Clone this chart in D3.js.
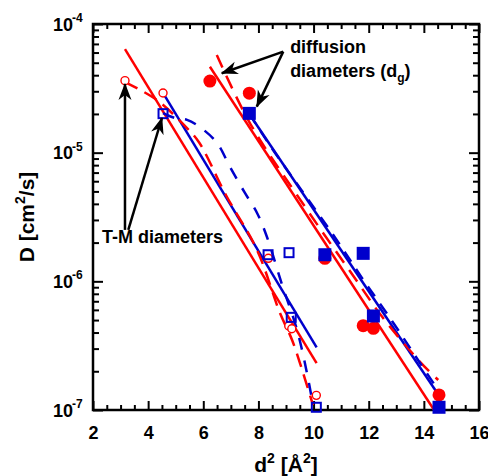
<!DOCTYPE html>
<html>
<head>
<meta charset="utf-8">
<script src="https://cdnjs.cloudflare.com/ajax/libs/d3/7.8.5/d3.min.js"></script>
<style>
body{margin:0;background:#fff;}
svg{display:block;font-family:"Liberation Sans",Arial,Helvetica,sans-serif;font-weight:bold;}
</style>
</head>
<body>
<div id="chart"></div>
<script>
// T-M diameters (open symbols)
var tmRedX = [3.16, 4.54, 8.36, 9.10, 9.21, 10.10];
var tmRedY = [3.63e-5, 2.91e-5, 1.51e-6, 4.5e-7, 4.28e-7, 1.30e-7];
var tmBlueX = [4.54, 8.35, 9.11, 9.19, 10.10];
var tmBlueY = [2.01e-5, 1.61e-6, 1.67e-6, 5.25e-7, 1.05e-7];

// diffusion diameters (filled symbols)
var dgRedX = [6.24, 7.67, 10.41, 11.80, 12.17, 14.55];
var dgRedY = [3.6e-5, 2.9e-5, 1.51e-6, 4.52e-7, 4.31e-7, 1.31e-7];
var dgBlueX = [7.67, 10.41, 11.80, 12.17, 14.55];
var dgBlueY = [2.02e-5, 1.61e-6, 1.65e-6, 5.38e-7, 1.05e-7];

// straight fits
var tmRedFitX = [3.16, 10.11], tmRedFitY = [6.39e-5, 2.31e-7];
var tmBlueFitX = [4.55, 10.11], tmBlueFitY = [2.89e-5, 3.07e-7];
var dgRedFitX = [6.24, 14.37], dgRedFitY = [4.65e-5, 1.0e-7];
var dgBlueFitX = [7.67, 14.48], dgBlueFitY = [2.0e-5, 1.36e-7];

// curved (dashed) fits
var tmRedCurveX = [3.16, 4.32, 5.41, 5.85, 6.82, 7.95, 8.78, 9.22, 9.62, 9.98];
var tmRedCurveY = [3.54e-5, 2.56e-5, 1.55e-5, 1.2e-5, 4.69e-6, 1.75e-6, 5.68e-7, 3.50e-7, 1.94e-7, 1.09e-7];
var tmBlueCurveX = [4.54, 4.97, 5.41, 5.88, 6.50, 6.97, 7.51, 7.95, 8.31, 8.85, 9.40, 9.76, 9.98];
var tmBlueCurveY = [2.03e-5, 1.86e-5, 1.80e-5, 1.58e-5, 1.19e-5, 7.74e-6, 4.86e-6, 3.40e-6, 2.21e-6, 9.5e-7, 4.19e-7, 1.94e-7, 1.09e-7];
var dgRedCurveX = [6.49, 7.69, 9.69, 11.38, 12.53, 13.86, 14.52];
var dgRedCurveY = [5.74e-5, 1.70e-5, 3.80e-6, 1.15e-6, 5.16e-7, 2.37e-7, 1.71e-7];
var dgBlueCurveX = [7.66, 8.49, 9.51, 10.74, 11.76, 12.85, 13.86, 14.47];
var dgBlueCurveY = [2.02e-5, 1.08e-5, 5.3e-6, 2.25e-6, 1.06e-6, 4.9e-7, 2.32e-7, 1.48e-7];

// ticks
var xMajor = [2, 4, 6, 8, 10, 12, 14, 16];
var yMajor = [1e-7, 1e-6, 1e-5, 1e-4];
var yLabels = ["-7", "-6", "-5", "-4"];

// annotations (data coords)
var arrows = [
  {x1: 8.90, y1: 6.1e-5, x2: 6.67, y2: 4.14e-5},
  {x1: 8.90, y1: 6.1e-5, x2: 7.94, y2: 2.28e-5},
  {x1: 3.16, y1: 2.51e-6, x2: 3.16, y2: 3.42e-5},
  {x1: 3.28, y1: 2.51e-6, x2: 4.50, y2: 1.86e-5}
];

var red = "#ff0000", blue = "#0000cc";
var width = 488, height = 476;
var L = 93, R = 479, T = 24, B = 410;

var svg = d3.select("#chart").append("svg")
    .attr("width", width)
    .attr("height", height);

var x = d3.scaleLinear().domain([2, 16]).range([L, R]);
var y = d3.scaleLog().domain([1e-7, 1e-4]).range([B, T]);

var xMinor = d3.range(2, 16.01, 0.5).filter(function(v){ return v % 2 !== 0; });
var yMinor = [];
[1e-7, 1e-6, 1e-5].forEach(function(dec){
  for (var k = 2; k <= 9; k++) yMinor.push(dec * k);
});

svg.append("defs").append("clipPath").attr("id", "clip")
  .append("rect").attr("x", L).attr("y", T).attr("width", R - L).attr("height", B - T);

var mk = svg.select("defs").append("marker")
    .attr("id", "head")
    .attr("markerUnits", "userSpaceOnUse")
    .attr("viewBox", "0 -7 17 14")
    .attr("refX", 16).attr("refY", 0)
    .attr("markerWidth", 17).attr("markerHeight", 14)
    .attr("orient", "auto");
mk.append("path").attr("d", "M0,-6.5L17,0L0,6.5L5,0Z").attr("fill", "black");

// axes: major and minor ticks, inward, on all four sides
function styleAxis(g){
  g.select(".domain").remove();
  g.selectAll(".tick line").attr("stroke", "black").attr("stroke-width", 2);
}
svg.append("g").attr("transform", "translate(0," + B + ")")
  .call(d3.axisBottom(x).tickValues(xMajor).tickSize(-9).tickPadding(16).tickFormat(d3.format("d")))
  .call(styleAxis)
  .selectAll("text").attr("font-size", 18).attr("font-weight", "bold").attr("fill", "black")
    .attr("font-family", "'Liberation Sans',Arial,sans-serif");
svg.append("g").attr("transform", "translate(0," + B + ")")
  .call(d3.axisBottom(x).tickValues(xMinor).tickSize(-5).tickFormat(""))
  .call(styleAxis);
svg.append("g").attr("transform", "translate(0," + T + ")")
  .call(d3.axisTop(x).tickValues(xMajor).tickSize(-9).tickFormat(""))
  .call(styleAxis);
svg.append("g").attr("transform", "translate(0," + T + ")")
  .call(d3.axisTop(x).tickValues(xMinor).tickSize(-5).tickFormat(""))
  .call(styleAxis);

var yl = svg.append("g").attr("transform", "translate(" + L + ",0)")
  .call(d3.axisLeft(y).tickValues(yMajor).tickSize(-10).tickFormat(""))
  .call(styleAxis);
svg.append("g").attr("transform", "translate(" + L + ",0)")
  .call(d3.axisLeft(y).tickValues(yMinor).tickSize(-6).tickFormat(""))
  .call(styleAxis);
svg.append("g").attr("transform", "translate(" + R + ",0)")
  .call(d3.axisRight(y).tickValues(yMajor).tickSize(-10).tickFormat(""))
  .call(styleAxis);
svg.append("g").attr("transform", "translate(" + R + ",0)")
  .call(d3.axisRight(y).tickValues(yMinor).tickSize(-6).tickFormat(""))
  .call(styleAxis);

// y tick labels 10^n
var ylab = svg.append("g").selectAll("text").data(yMajor).enter().append("text")
  .attr("x", 73)
  .attr("y", function(d){ return y(d) + 6.5; })
  .attr("text-anchor", "end")
  .attr("font-size", 18)
  .text("10");
svg.append("g").selectAll("text").data(yMajor).enter().append("text")
  .attr("x", 72)
  .attr("y", function(d){ return y(d) - 2; })
  .attr("font-size", 12)
  .text(function(d, i){ return yLabels[i]; });

svg.append("rect").attr("x", L).attr("y", T).attr("width", R - L).attr("height", B - T)
  .attr("fill", "none").attr("stroke", "black").attr("stroke-width", 2.5);

// axis titles
var yt = svg.append("text")
  .attr("transform", "translate(34," + ((T + B) / 2) + ") rotate(-90)")
  .attr("text-anchor", "middle")
  .attr("font-size", 21);
yt.append("tspan").text("D [cm");
yt.append("tspan").attr("font-size", 14).attr("dy", -9).text("2");
yt.append("tspan").attr("dy", 9).text("/s]");

var xt = svg.append("text")
  .attr("x", (L + R) / 2).attr("y", 472)
  .attr("text-anchor", "middle")
  .attr("font-size", 21);
xt.append("tspan").text("d");
xt.append("tspan").attr("font-size", 14).attr("dy", -9).text("2");
xt.append("tspan").attr("dy", 9).text(" [Å");
xt.append("tspan").attr("font-size", 14).attr("dy", -9).text("2");
xt.append("tspan").attr("dy", 9).text("]");

// lines
var plot = svg.append("g").attr("clip-path", "url(#clip)");
function zip(xs, ys){ return xs.map(function(v, i){ return [v, ys[i]]; }); }
var line = d3.line().x(function(d){ return x(d[0]); }).y(function(d){ return y(d[1]); });
var curve = d3.line().x(function(d){ return x(d[0]); }).y(function(d){ return y(d[1]); })
  .curve(d3.curveCatmullRom.alpha(0.5));

function addLine(xs, ys, color, dash, gen){
  plot.append("path").datum(zip(xs, ys))
    .attr("d", gen)
    .attr("fill", "none")
    .attr("stroke", color)
    .attr("stroke-width", 2.5)
    .attr("stroke-dasharray", dash);
}
addLine(tmRedFitX, tmRedFitY, red, null, line);
addLine(tmBlueFitX, tmBlueFitY, blue, null, line);
addLine(dgRedFitX, dgRedFitY, red, null, line);
addLine(dgBlueFitX, dgBlueFitY, blue, null, line);
addLine(tmRedCurveX, tmRedCurveY, red, "14,8", curve);
addLine(tmBlueCurveX, tmBlueCurveY, blue, "12,11", curve);
addLine(dgRedCurveX, dgRedCurveY, red, "14,9", curve);
addLine(dgBlueCurveX, dgBlueCurveY, blue, "12,9", curve);

// symbols
svg.append("g").selectAll("circle").data(zip(dgRedX, dgRedY)).enter().append("circle")
  .attr("cx", function(d){ return x(d[0]); })
  .attr("cy", function(d){ return y(d[1]); })
  .attr("r", 6.5).attr("fill", red);
svg.append("g").selectAll("rect").data(zip(dgBlueX, dgBlueY)).enter().append("rect")
  .attr("x", function(d){ return x(d[0]) - 6.5; })
  .attr("y", function(d){ return y(d[1]) - 6.5; })
  .attr("width", 13).attr("height", 13).attr("fill", blue);
svg.append("g").selectAll("circle").data(zip(tmRedX, tmRedY)).enter().append("circle")
  .attr("cx", function(d){ return x(d[0]); })
  .attr("cy", function(d){ return y(d[1]); })
  .attr("r", 4).attr("fill", "white").attr("stroke", red).attr("stroke-width", 1.4);
svg.append("g").selectAll("rect").data(zip(tmBlueX, tmBlueY)).enter().append("rect")
  .attr("x", function(d){ return x(d[0]) - 4.5; })
  .attr("y", function(d){ return y(d[1]) - 4.5; })
  .attr("width", 9).attr("height", 9).attr("fill", "none")
  .attr("stroke", blue).attr("stroke-width", 2);

// annotations
svg.append("g").selectAll("line").data(arrows).enter().append("line")
  .attr("x1", function(d){ return x(d.x1); })
  .attr("y1", function(d){ return y(d.y1); })
  .attr("x2", function(d){ return x(d.x2); })
  .attr("y2", function(d){ return y(d.y2); })
  .attr("stroke", "black").attr("stroke-width", 2.5)
  .attr("marker-end", "url(#head)");

svg.append("text").attr("x", x(9.15)).attr("y", y(5.96e-5)).attr("font-size", 18).text("diffusion");
var dt = svg.append("text").attr("x", x(9.15)).attr("y", y(3.87e-5)).attr("font-size", 18);
dt.append("tspan").text("diameters (d");
dt.append("tspan").attr("font-size", 12).attr("dy", 5).text("g");
dt.append("tspan").attr("dy", -5).text(")");
svg.append("text").attr("x", x(2.33)).attr("y", y(1.99e-6)).attr("font-size", 18).text("T-M diameters");
</script>
</body>
</html>
